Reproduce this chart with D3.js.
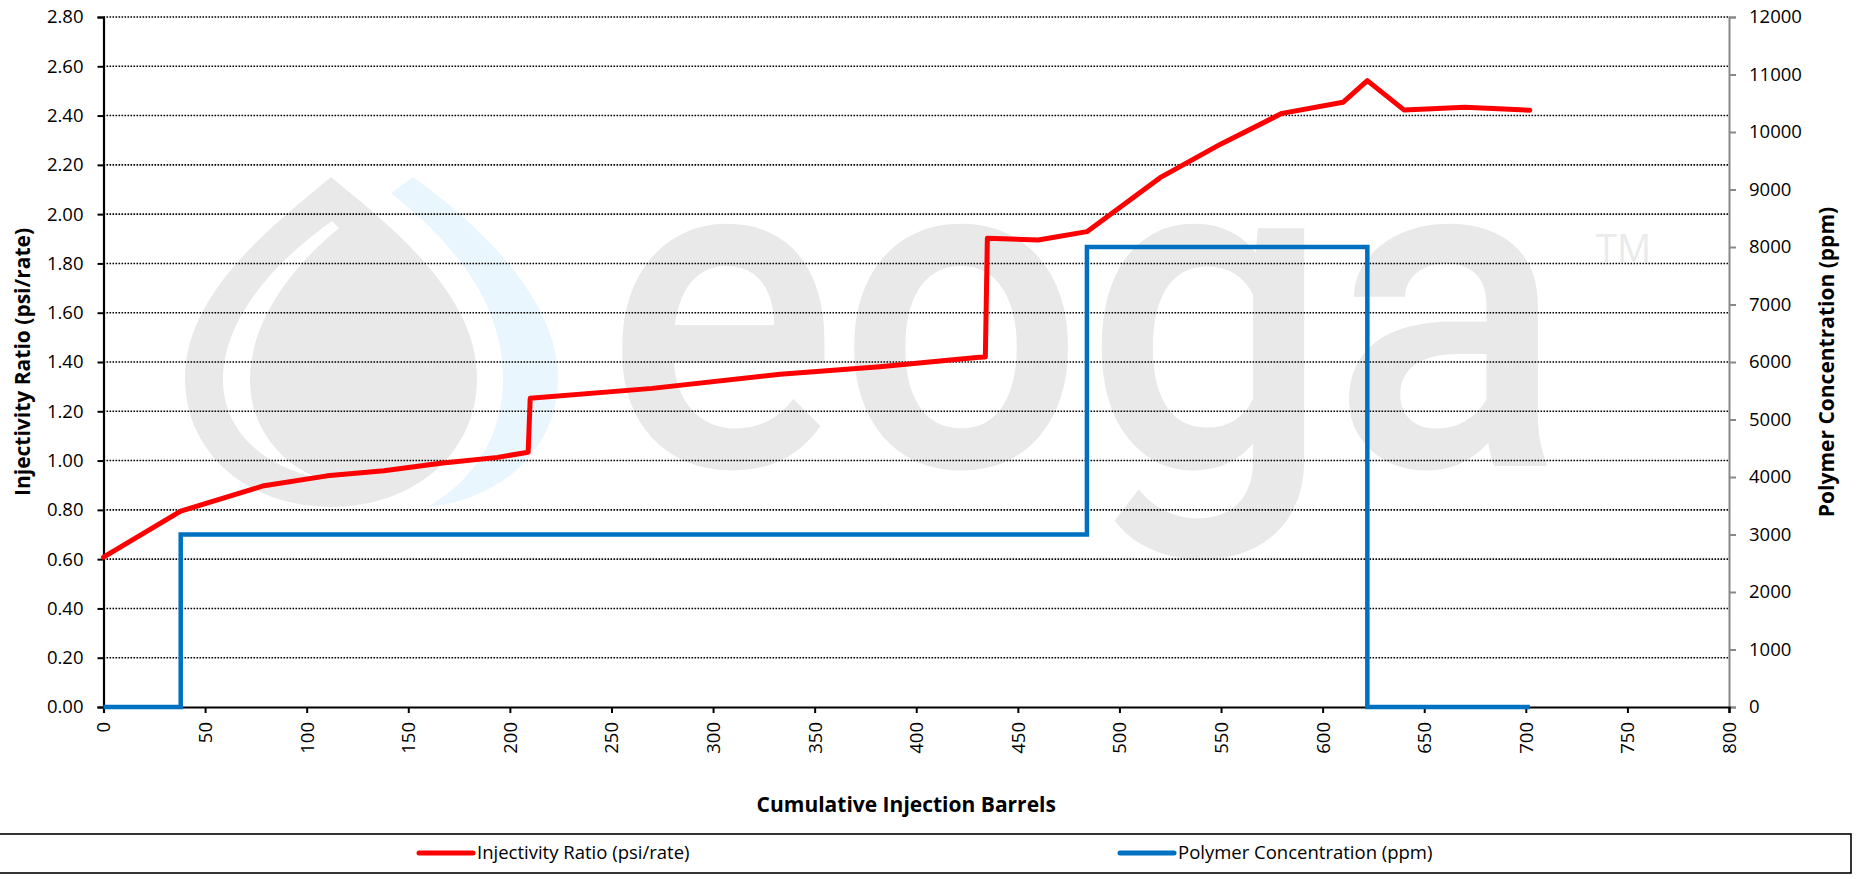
<!DOCTYPE html>
<html>
<head>
<meta charset="utf-8">
<script src="https://cdn.jsdelivr.net/npm/d3@7"></script>
<style>
  html, body { margin: 0; padding: 0; background: #fff; }
  svg { display: block; font-family: "Open Sans", "Liberation Sans", sans-serif; }
</style>
</head>
<body>
<svg id="chart" width="1862" height="879"></svg>
<script>
// ---- data ----
const injX = [0, 38, 79, 110, 138, 166, 194, 209, 210, 270, 333, 382, 431, 434, 435, 460, 484, 520, 550, 580, 610, 622, 640, 670, 702];
const injY = [0.608, 0.795, 0.898, 0.938, 0.959, 0.989, 1.013, 1.034, 1.253, 1.293, 1.350, 1.381, 1.419, 1.42, 1.902, 1.895, 1.929, 2.148, 2.285, 2.409, 2.454, 2.542, 2.423, 2.434, 2.422];
const polyX = [0, 38, 38, 484, 484, 622, 622, 702];
const polyY = [0, 0, 3000, 3000, 8000, 8000, 0, 0];
const xTicks = [0, 50, 100, 150, 200, 250, 300, 350, 400, 450, 500, 550, 600, 650, 700, 750, 800];
const yLeftTicks = [0, 0.2, 0.4, 0.6, 0.8, 1.0, 1.2, 1.4, 1.6, 1.8, 2.0, 2.2, 2.4, 2.6, 2.8];
const yRightTicks = [0, 1000, 2000, 3000, 4000, 5000, 6000, 7000, 8000, 9000, 10000, 11000, 12000];
const seriesNames = ["Injectivity Ratio (psi/rate)", "Polymer Concentration (ppm)"];
const seriesColors = ["#ff0000", "#0070c0"];
const xTitle = "Cumulative Injection Barrels";
const yLeftTitle = "Injectivity Ratio (psi/rate)";
const yRightTitle = "Polymer Concentration (ppm)";

// ---- layout ----
const L = 103.5, R = 1729, T = 17, B = 707;
const svg = d3.select("#chart");
const x = d3.scaleLinear().domain([0, 800]).range([L, R]);
const yL = d3.scaleLinear().domain([0, 2.8]).range([B, T]);
const yR = d3.scaleLinear().domain([0, 12000]).range([B, T]);

// ---- watermark ----
const wm = svg.append("g").attr("class", "watermark");
wm.append("path").attr("fill", "#e9e9e9")
  .attr("d", "M331,177 C280,220 185,290 185,378 C185,455 250,507 331,507 C412,507 477,455 477,378 C477,290 382,220 331,177 Z");
wm.append("path").attr("fill", "#ffffff")
  .attr("d", "M332,221 L339,228 C293,266 250,320 250,380 C250,425 278,462 318,478 C262,466 223,430 223,380 C223,315 280,258 332,221 Z");
wm.append("path").attr("fill", "#eaf6fd")
  .attr("d", "M391,193 L413,177 C480,225 558,300 558,378 C558,450 500,500 427,507 C475,480 503,435 503,378 C503,300 450,240 391,193 Z");
wm.append("text").attr("x", 605).attr("y", 466)
  .attr("font-family", "Roboto, 'Open Sans', sans-serif")
  .attr("font-size", 450).attr("font-weight", 500).attr("fill", "#e9e9e9")
  .attr("textLength", 960).attr("lengthAdjust", "spacingAndGlyphs")
  .text("eoga");
wm.append("text").attr("x", 1596).attr("y", 262)
  .attr("font-size", 38).attr("fill", "#ebebeb").text("TM");

// ---- gridlines ----
svg.append("g").selectAll("line").data(yLeftTicks.filter(d => d > 0)).join("line")
  .attr("x1", L).attr("x2", R)
  .attr("y1", d => yL(d)).attr("y2", d => yL(d))
  .attr("stroke", "#000").attr("stroke-width", 1.6)
  .attr("stroke-dasharray", "1.6,1.4");

// ---- axes ----
const axL = svg.append("g").attr("transform", `translate(${L},0)`)
  .call(d3.axisLeft(yL).tickValues(yLeftTicks).tickFormat(d3.format(".2f")).tickSize(6).tickPadding(14));
const axR = svg.append("g").attr("transform", `translate(${R},0)`)
  .call(d3.axisRight(yR).tickValues(yRightTicks).tickFormat(d3.format("d")).tickSize(7).tickPadding(13));
const axB = svg.append("g").attr("transform", `translate(0,${B})`)
  .call(d3.axisBottom(x).tickValues(xTicks).tickFormat(d3.format("d")).tickSize(6));

[axL, axR, axB].forEach(a => {
  a.selectAll("text").attr("font-size", 18.5).attr("fill", "#000")
    .attr("font-family", "'Open Sans', sans-serif");
});
axL.select(".domain").attr("stroke", "#000").attr("stroke-width", 2.2);
axL.selectAll(".tick line").attr("stroke", "#000").attr("stroke-width", 2);
axR.select(".domain").attr("stroke", "#888").attr("stroke-width", 2);
axR.selectAll(".tick line").attr("stroke", "#888").attr("stroke-width", 2);
axB.select(".domain").attr("stroke", "#000").attr("stroke-width", 2.2);
axB.selectAll(".tick line").attr("stroke", "#000").attr("stroke-width", 2);
axB.selectAll(".tick text")
  .attr("transform", "rotate(-90)")
  .attr("text-anchor", "end")
  .attr("x", -15).attr("y", 0).attr("dy", "0.35em");

// ---- series ----
const injData = injX.map((d, i) => [d, injY[i]]);
const polyData = polyX.map((d, i) => [d, polyY[i]]);

svg.append("path").datum(polyData)
  .attr("fill", "none").attr("stroke", seriesColors[1]).attr("stroke-width", 4.5)
  .attr("stroke-linejoin", "miter")
  .attr("d", d3.line().x(d => x(d[0])).y(d => yR(d[1])));

svg.append("path").datum(injData)
  .attr("fill", "none").attr("stroke", seriesColors[0]).attr("stroke-width", 5)
  .attr("stroke-linejoin", "round").attr("stroke-linecap", "round")
  .attr("d", d3.line().x(d => x(d[0])).y(d => yL(d[1])));

// ---- axis titles ----
svg.append("text").attr("x", (L + R) / 2 - 10).attr("y", 812)
  .attr("text-anchor", "middle").attr("font-size", 21).attr("font-weight", 700)
  .text(xTitle);
svg.append("text").attr("transform", `translate(30,${(T + B) / 2}) rotate(-90)`)
  .attr("text-anchor", "middle").attr("font-size", 21).attr("font-weight", 700)
  .text(yLeftTitle);
svg.append("text").attr("transform", `translate(1834,${(T + B) / 2}) rotate(-90)`)
  .attr("text-anchor", "middle").attr("font-size", 21).attr("font-weight", 700)
  .text(yRightTitle);

// ---- legend ----
const lg = svg.append("g");
lg.append("rect").attr("x", -2).attr("y", 834).attr("width", 1853).attr("height", 39)
  .attr("fill", "#fff").attr("stroke", "#000").attr("stroke-width", 1.6);
const legendPos = [419, 1120];
seriesNames.forEach((name, i) => {
  lg.append("line").attr("x1", legendPos[i]).attr("x2", legendPos[i] + 54)
    .attr("y1", 853).attr("y2", 853)
    .attr("stroke", seriesColors[i]).attr("stroke-width", 5).attr("stroke-linecap", "round");
  lg.append("text").attr("x", legendPos[i] + 58).attr("y", 853).attr("dy", "0.35em")
    .attr("font-size", 18.5).attr("fill", "#000").text(name);
});
</script>
</body>
</html>
